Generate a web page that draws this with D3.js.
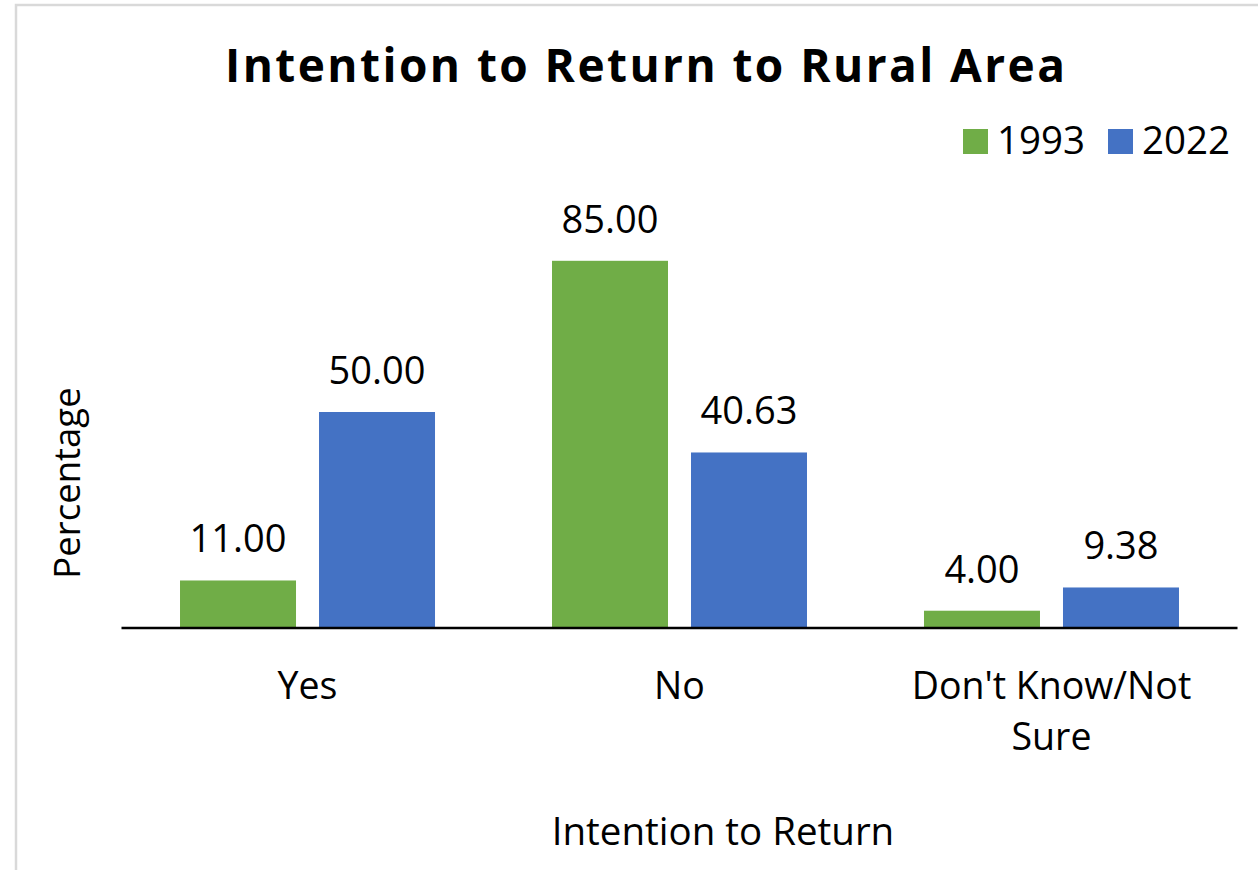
<!DOCTYPE html>
<html>
<head>
<meta charset="utf-8">
<script src="https://cdn.jsdelivr.net/npm/d3@7"></script>
<style>
  html, body { margin: 0; padding: 0; background: #fff; }
  svg { display: block; }
  text { font-family: "Open Sans", "Noto Sans", sans-serif; fill: #000; }
</style>
</head>
<body>
<svg id="chart" width="1258" height="870"></svg>
<script>
const categories = ["Yes", "No", "Don't Know/Not Sure"];
const categoryLines = [["Yes"], ["No"], ["Don't Know/Not", "Sure"]];
const seriesNames = ["1993", "2022"];
const values1993 = [11.00, 85.00, 4.00];
const values2022 = [50.00, 40.63, 9.38];
const seriesColors = ["#70ad47", "#4472c4"];
const titleText = "Intention to Return to Rural Area";
const xTitle = "Intention to Return";
const yTitle = "Percentage";

const svg = d3.select("#chart");
const plot = { left: 121.5, right: 1237.5, top: 196, bottom: 628 };

// chart border
svg.append("rect")
  .attr("x", 16).attr("y", 5)
  .attr("width", 1300).attr("height", 900)
  .attr("fill", "#fff")
  .attr("stroke", "#d9d9d9").attr("stroke-width", 2.5);

const x0 = d3.scaleBand()
  .domain(categories)
  .range([plot.left, plot.right])
  .paddingInner(0.3145)
  .paddingOuter(0.1573);

const x1 = d3.scaleBand()
  .domain(seriesNames)
  .range([0, x0.bandwidth()])
  .paddingInner(0.1655);

const y = d3.scaleLinear().domain([0, 100]).range([plot.bottom, plot.top]);

const data = categories.map((c, i) => ({
  cat: c,
  vals: [
    { s: seriesNames[0], v: values1993[i], color: seriesColors[0] },
    { s: seriesNames[1], v: values2022[i], color: seriesColors[1] }
  ]
}));

const groups = svg.append("g").selectAll("g").data(data).join("g")
  .attr("transform", d => `translate(${x0(d.cat)},0)`);

groups.selectAll("rect").data(d => d.vals).join("rect")
  .attr("x", d => x1(d.s))
  .attr("width", x1.bandwidth())
  .attr("y", d => y(d.v))
  .attr("height", d => y(0) - y(d.v))
  .attr("fill", d => d.color);

groups.selectAll("text.val").data(d => d.vals).join("text")
  .attr("class", "val")
  .attr("x", d => x1(d.s) + x1.bandwidth() / 2)
  .attr("y", d => y(d.v) - 28)
  .attr("text-anchor", "middle")
  .style("font-size", "38px")
  .text(d => d3.format(".2f")(d.v));

// x axis line
const xAxis = d3.axisBottom(x0).tickSize(0).tickFormat("");
const gx = svg.append("g").attr("transform", `translate(0,${plot.bottom})`).call(xAxis);
gx.select(".domain").attr("stroke", "#000").attr("stroke-width", 2.5)
  .attr("d", `M${plot.left},0H${plot.right}`);

// category labels
categories.forEach((c, i) => {
  const cx = x0(c) + x0.bandwidth() / 2;
  const t = svg.append("text")
    .attr("text-anchor", "middle")
    .attr("x", cx)
    .attr("y", 699)
    .style("font-size", "37.5px");
  categoryLines[i].forEach((line, j) => {
    t.append("tspan")
      .attr("x", cx)
      .attr("dy", j === 0 ? 0 : 51)
      .text(line);
  });
});

// title
svg.append("text")
  .attr("x", 225).attr("y", 82)
  .attr("textLength", 840).attr("lengthAdjust", "spacing")
  .style("font-size", "46px").style("font-weight", "bold")
  .text(titleText);

// axis titles
svg.append("text")
  .attr("x", 723).attr("y", 845)
  .attr("text-anchor", "middle")
  .style("font-size", "38.5px")
  .text(xTitle);

svg.append("text")
  .attr("transform", `translate(80,483) rotate(-90)`)
  .attr("text-anchor", "middle")
  .style("font-size", "36.5px")
  .text(yTitle);

// legend
const legendX = [963, 1108];
seriesNames.forEach((s, i) => {
  svg.append("rect")
    .attr("x", legendX[i]).attr("y", 129)
    .attr("width", 25).attr("height", 25)
    .attr("fill", seriesColors[i]);
  svg.append("text")
    .attr("x", legendX[i] + 34).attr("y", 154)
    .style("font-size", "38.5px")
    .text(s);
});
</script>
</body>
</html>
